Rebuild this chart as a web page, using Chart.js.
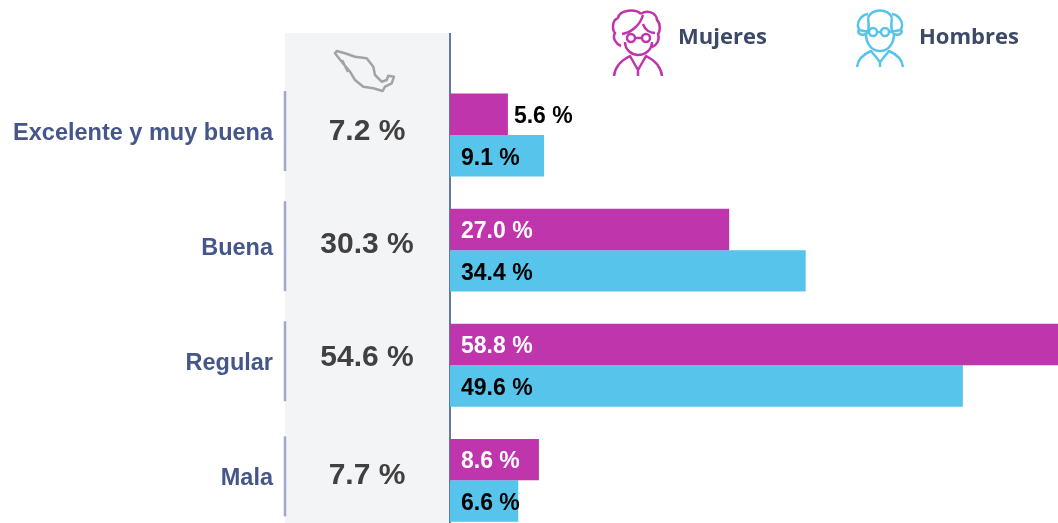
<!DOCTYPE html>
<html lang="es">
<head>
<meta charset="utf-8">
<title>Percepción de salud</title>
<script src="https://cdn.jsdelivr.net/npm/chart.js@4"></script>
<style>
  html, body { margin: 0; padding: 0; background: #fff; overflow: hidden; }
  #wrap { width: 1058px; height: 523px; overflow: hidden; }
  canvas { display: block; }
</style>
</head>
<body>
<div id="wrap"><canvas id="chart" width="1058" height="552"></canvas></div>
<script>
const categorias = ['Excelente y muy buena', 'Buena', 'Regular', 'Mala']
const mujeres = [5.6, 27.0, 58.8, 8.6]
const hombres = [9.1, 34.4, 49.6, 6.6]
const nacional = [7.2, 30.3, 54.6, 7.7]

const COLORS = {
  mujeres: '#BE35AC',
  hombres: '#56C4EB',
  panel: '#F3F4F6',
  axis: '#6478A6',
  tickBar: '#9DAACB',
  label: '#44568A',
  legend: '#3C4A68',
  nacional: '#404040',
  map: '#A3A3A3'
}

const FONT = '"Liberation Sans", Arial, sans-serif'

// the national figures do not sit evenly in the reference
const NACIONAL_DY = [-3, -5, -8, -5]

// icons traced by hand, in page pixels
const ICON_MUJER = new Path2D(
  'M641 14C636 9 620 9 618 18C612 20 612 30 615 33C612 38 616 44 621 46' +
  'M641 14C645 10 656 11 657 20C661 24 660 32 658 34C660 40 657 45 652 47' +
  'M622 34C630 33 640 26 643 15M643 24C645 30 650 33 655 33' +
  'M625 42C625 50 632 55 638 55C645 55 652 50 652 42' +
  'M635 38a4 4 0 1 1-8 0a4 4 0 1 1 8 0M650 38a4 4 0 1 1-8 0a4 4 0 1 1 8 0M635 38L642 38' +
  'M614 76C615 66 622 60 630 56L638 70L646 56C654 60 661 66 662 76M638 70L638 76'
)
const ICON_HOMBRE = new Path2D(
  'M868 18C872 8 888 8 892 18' +
  'M868 14C860 15 856 24 859 29C857 33 860 36 866 34C869 32 869 24 868 18' +
  'M892 14C900 15 904 24 901 29C903 33 900 36 894 34C891 32 891 24 892 18' +
  'M866 34C866 44 872 51 880 51C888 51 894 44 894 34' +
  'M877 32a4 4 0 1 1-8 0a4 4 0 1 1 8 0M889 32a4 4 0 1 1-8 0a4 4 0 1 1 8 0M877 32L881 32M869 32L859 30M889 32L901 30' +
  'M857 67C858 58 864 54 871 51L880 62L889 51C896 54 902 58 903 67M880 62L880 67'
)
const MAPA = new Path2D(
  'M336.7 51L345 53.3L355 56.7L366.7 58.3L373.3 66.7L375 75L381.7 81.7L386.7 80L388.3 75.7' +
  'L394 76.7L391.7 83.3L385 86.7L382.7 91L373.3 88.3L363.3 86.7L355 80L350 71.7L341.7 61.7L335 53.3Z' +
  'M342 60L348 72'
)

// grey national column, the vertical rule and the bars beside each label
const fondoPlugin = {
  id: 'fondo',
  beforeDatasetsDraw(chart) {
    const { ctx, scales: { y } } = chart
    ctx.save()
    ctx.fillStyle = COLORS.panel
    ctx.fillRect(285, 33, 165, 505)
    ctx.fillStyle = COLORS.axis
    ctx.fillRect(449, 33, 2, 505)

    ctx.strokeStyle = COLORS.tickBar
    ctx.lineWidth = 2.5
    categorias.forEach((c, i) => {
      const cy = y.getPixelForValue(i) - 4
      const half = i === 1 ? 45 : 40
      ctx.beginPath()
      ctx.moveTo(285, cy - half)
      ctx.lineTo(285, cy + half)
      ctx.stroke()
    })

    ctx.strokeStyle = COLORS.map
    ctx.lineWidth = 2.5
    ctx.lineJoin = 'round'
    ctx.stroke(MAPA)

    ctx.fillStyle = COLORS.nacional
    ctx.font = 'bold 30px ' + FONT
    ctx.textAlign = 'center'
    ctx.textBaseline = 'middle'
    nacional.forEach((v, i) => {
      ctx.fillText(v.toFixed(1) + ' %', 367, y.getPixelForValue(i) + NACIONAL_DY[i])
    })
    ctx.restore()
  }
}

const etiquetasPlugin = {
  id: 'etiquetas',
  afterDatasetsDraw(chart) {
    const { ctx } = chart
    ctx.save()
    ctx.font = 'bold 23px ' + FONT
    ctx.textAlign = 'left'
    ctx.textBaseline = 'middle'
    chart.data.datasets.forEach((ds, d) => {
      chart.getDatasetMeta(d).data.forEach((bar, i) => {
        const v = ds.data[i]
        const fuera = v < 6 && d === 0
        ctx.fillStyle = d === 0 && !fuera ? '#FFFFFF' : '#000000'
        const x = fuera ? bar.x + 6 : bar.base + 11
        ctx.fillText(v.toFixed(1) + ' %', x, bar.y + 2.5)
      })
    })
    ctx.restore()
  }
}

const leyendaPlugin = {
  id: 'leyenda',
  afterDraw(chart) {
    const { ctx } = chart
    ctx.save()
    ctx.lineWidth = 2.5
    ctx.lineJoin = 'round'
    ctx.strokeStyle = COLORS.mujeres
    ctx.stroke(ICON_MUJER)
    ctx.strokeStyle = COLORS.hombres
    ctx.stroke(ICON_HOMBRE)

    ctx.fillStyle = COLORS.legend
    ctx.font = 'bold 22px "Open Sans", sans-serif'
    ctx.textAlign = 'left'
    ctx.textBaseline = 'middle'
    ctx.fillText('Mujeres', 678, 38)
    ctx.fillText('Hombres', 919, 38)
    ctx.restore()
  }
}

new Chart(document.getElementById('chart'), {
  type: 'bar',
  data: {
    labels: categorias,
    datasets: [
      {
        label: 'Mujeres',
        data: mujeres,
        backgroundColor: COLORS.mujeres
      },
      {
        label: 'Hombres',
        data: hombres,
        backgroundColor: COLORS.hombres
      }
    ]
  },
  options: {
    indexAxis: 'y',
    responsive: false,
    animation: false,
    layout: { padding: { top: 77.5, left: 0, right: 0, bottom: 0 } },
    datasets: {
      bar: { categoryPercentage: 0.72, barPercentage: 1 }
    },
    plugins: {
      legend: { display: false },
      tooltip: { enabled: false }
    },
    scales: {
      x: {
        display: false,
        min: 0,
        max: 58.8,
        grid: { display: false }
      },
      y: {
        afterFit(scale) {
          scale.width = 450
        },
        // tick length pushes the labels left of the grey column
        grid: { display: false, drawTicks: true, tickLength: 177 },
        border: { display: false },
        ticks: {
          color: COLORS.label,
          font: { family: FONT, size: 23.5, weight: 'bold' },
          padding: 0,
          labelOffset: -2
        }
      }
    }
  },
  plugins: [fondoPlugin, etiquetasPlugin, leyendaPlugin]
})
</script>
</body>
</html>
